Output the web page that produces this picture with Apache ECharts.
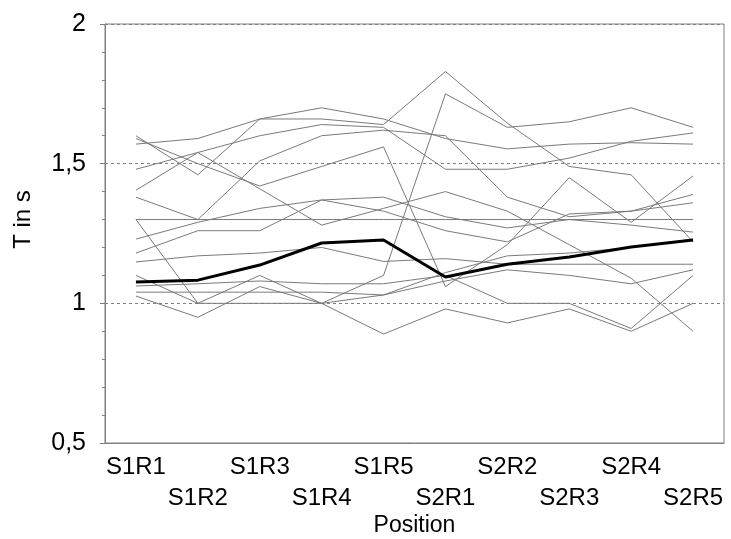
<!DOCTYPE html>
<html><head><meta charset="utf-8">
<script src="https://cdn.jsdelivr.net/npm/echarts@6/dist/echarts.min.js"></script>
<style>html,body{margin:0;padding:0;background:#fff}#c{width:731px;height:539px}</style>
</head><body><div id="c"></div>
<script>
const categories = ['S1R1','S1R2','S1R3','S1R4','S1R5','S2R1','S2R2','S2R3','S2R4','S2R5'];
const yTicks = [0.5, 1, 1.5, 2];
const meanLine = [1.076,1.083,1.137,1.216,1.227,1.094,1.14,1.166,1.202,1.227];
const run01 = [1.57,1.59,1.66,1.70,1.66,1.59,1.553,1.57,1.575,1.57];
const run02 = [1.60,1.46,1.66,1.66,1.64,1.83,1.645,1.49,1.46,1.22];
const run03 = [1.59,1.50,1.42,1.49,1.56,1.06,1.21,1.45,1.29,1.456];
const run04 = [1.48,1.54,1.60,1.64,1.63,1.48,1.48,1.52,1.58,1.61];
const run05 = [1.38,1.30,1.51,1.60,1.62,1.60,1.38,1.31,1.33,1.36];
const run06 = [1.405,1.54,1.41,1.28,1.34,1.40,1.33,1.21,1.09,0.90];
const run07 = [1.30,1.30,1.30,1.30,1.30,1.30,1.30,1.30,1.30,1.30];
const run08 = [1.23,1.29,1.34,1.37,1.33,1.26,1.22,1.32,1.33,1.39];
const run09 = [1.18,1.26,1.26,1.37,1.38,1.31,1.27,1.30,1.28,1.255];
const run10 = [1.148,1.17,1.18,1.20,1.15,1.16,1.14,1.14,1.14,1.14];
const run11 = [1.10,1.00,1.00,1.00,1.10,1.75,1.63,1.65,1.70,1.63];
const run12 = [1.04,1.04,1.04,1.04,1.03,1.08,1.12,1.10,1.07,1.12];
const run13 = [1.026,0.95,1.06,1.00,0.89,0.98,0.93,0.98,0.90,1.00];
const run14 = [1.062,1.07,1.08,1.07,1.07,1.10,1.00,1.00,0.91,1.10];
const run15 = [1.30,1.00,1.10,1.00,1.03,1.11,1.17,1.18,1.20,1.23];
const runs = [run01,run02,run03,run04,run05,run06,run07,run08,run09,run10,run11,run12,run13,run14,run15];

const FONT = '"Liberation Sans", Arial, sans-serif';
const GRAY = '#7a7a7a';
const series = runs.map((d, i) => ({
  name: 'run' + (i + 1), type: 'line', data: d, symbol: 'none', silent: true,
  lineStyle: { color: GRAY, width: 1 }, z: 2
}));
series.push({ name: 'mean', type: 'line', data: meanLine, symbol: 'none', silent: true,
  lineStyle: { color: '#000', width: 3 }, z: 3 });

const chart = echarts.init(document.getElementById('c'), null, { renderer: 'canvas' });
chart.setOption({
  animation: false,
  backgroundColor: '#fff',
  grid: { left: 105, right: 7, top: 24, bottom: 96, outerBoundsMode: 'none', containLabel: false,
    show: true, borderColor: '#808080', borderWidth: 1, backgroundColor: '#fff' },
  xAxis: {
    type: 'category', data: categories, boundaryGap: true,
    name: 'Position', nameLocation: 'middle', nameGap: 71, nameMoveOverlap: false,
    nameTextStyle: { fontFamily: FONT, fontSize: 23, color: '#000' },
    axisLine: { lineStyle: { color: '#808080', width: 1 } },
    axisTick: { alignWithLabel: true, length: 6, lineStyle: { color: '#808080' } },
    axisLabel: { interval: 0, margin: 9, fontFamily: FONT, fontSize: 24, color: '#000', lineHeight: 31,
      formatter: (v) => (categories.indexOf(v) % 2 ? '\n' + v : v) },
    splitLine: { show: false }
  },
  yAxis: {
    type: 'value', min: yTicks[0], max: yTicks[yTicks.length - 1], interval: 0.5,
    name: 'T in s', nameLocation: 'middle', nameGap: 70, nameRotate: 90, nameMoveOverlap: false,
    nameTextStyle: { fontFamily: FONT, fontSize: 24, color: '#000', padding: [0, 0, 0, 28] },
    axisLine: { show: true, lineStyle: { color: '#808080', width: 1 } },
    axisTick: { show: true, length: 5, lineStyle: { color: '#808080' } },
    minorTick: { show: true, splitNumber: 5, length: 3, lineStyle: { color: '#808080' } },
    axisLabel: { margin: 19, fontFamily: FONT, fontSize: 25, color: '#000',
      formatter: v => String(v).replace('.', ',') },
    splitLine: { show: true, lineStyle: { color: '#808080', type: [3, 3], width: 1 } }
  },
  series: series
});
</script></body></html>
